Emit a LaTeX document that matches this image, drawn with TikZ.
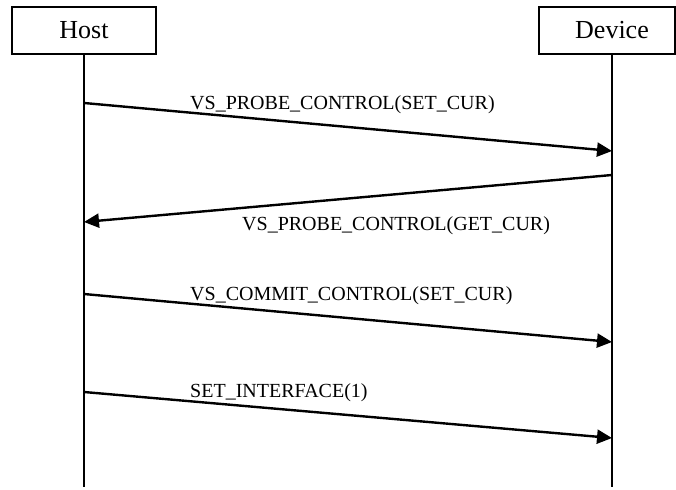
\documentclass[tikz,border=0pt]{standalone}
\usepackage{fontspec}
\setmainfont{Liberation Serif}
\usetikzlibrary{arrows.meta}
\begin{document}
\begin{tikzpicture}[x=1pt,y=-1pt,
  actor/.style={draw,line width=2.2pt,minimum height=47pt,inner sep=0pt,font=\fontsize{26}{30}\selectfont},
  lifeline/.style={line width=2.2pt},
  msg/.style={line width=2.4pt,-{Triangle[length=15pt,width=14pt]}},
  msglabel/.style={anchor=base west,inner sep=0pt,font=\fontsize{20}{24}\selectfont}]
\useasboundingbox (0,0) rectangle (676,489);
\node[actor,minimum width=144pt] (host) at (84,30.5) {Host};
\node[actor,minimum width=136pt] (device) at (607,30.5) {\hspace*{10pt}Device};
\coordinate (hend) at (84,487);
\coordinate (dend) at (612,487);
\coordinate (dtop) at (612,54);
\draw[lifeline] (host.south) -- (hend);
\draw[lifeline] (dtop) -- (dend);
\coordinate (h1) at (84,103);  \coordinate (d1) at (612,151);
\coordinate (d2) at (612,175); \coordinate (h2) at (84,222);
\coordinate (h3) at (84,294);  \coordinate (d3) at (612,342);
\coordinate (h4) at (84,392);  \coordinate (d4) at (612,438);
\draw[msg] (h1) -- (d1);
\draw[msg] (d2) -- (h2);
\draw[msg] (h3) -- (d3);
\draw[msg] (h4) -- (d4);
\node[msglabel] (l1) at (190,110) {VS\_PROBE\_CONTROL(SET\_CUR)};
\node[msglabel] (l2) at (242,230) {VS\_PROBE\_CONTROL(GET\_CUR)};
\node[msglabel] (l3) at (190,300) {VS\_COMMIT\_CONTROL(SET\_CUR)};
\node[msglabel] (l4) at (190,397) {SET\_INTERFACE(1)};
\end{tikzpicture}
\end{document}
